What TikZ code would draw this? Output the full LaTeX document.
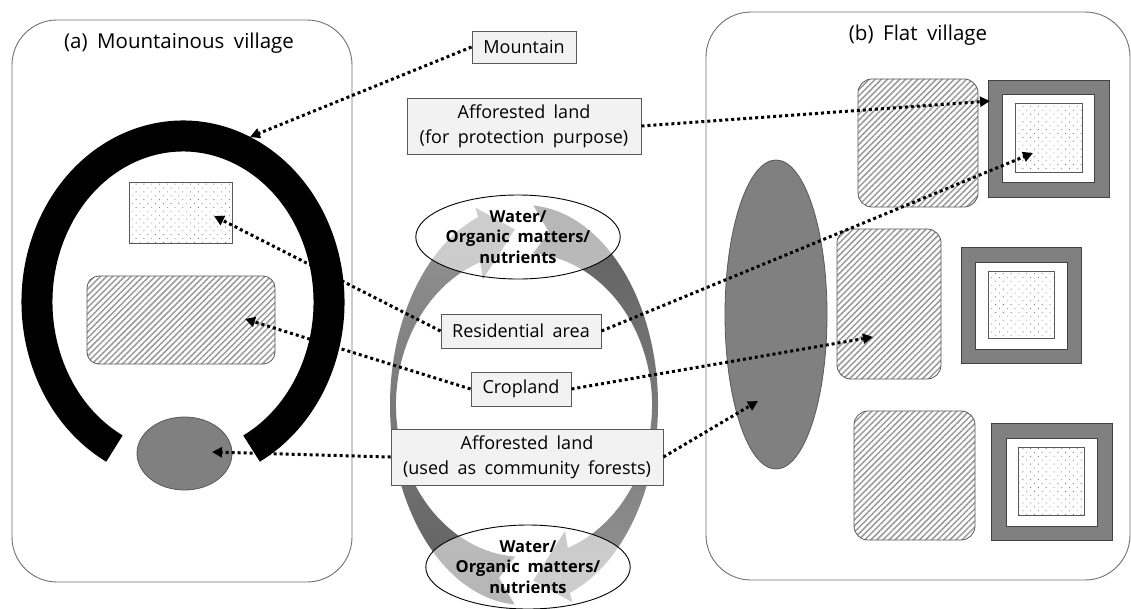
\documentclass[tikz,border=0pt]{standalone}
\usepackage{fontspec}
\setmainfont{Open Sans}[WordSpace=1.8]
\usetikzlibrary{arrows.meta,patterns.meta,shapes.geometric,calc}
\definecolor{boxfill}{HTML}{F2F2F2}
\definecolor{edgegray}{HTML}{595959}
\definecolor{panelgray}{HTML}{707070}
\definecolor{midgray}{HTML}{808080}
\definecolor{ringdark}{HTML}{5E5E5E}
\definecolor{ringlight}{HTML}{959595}
\definecolor{hatchgray}{HTML}{9A9A9A}
\definecolor{dotgray}{HTML}{7A7A7A}
\tikzset{
  panel/.style={draw=panelgray, line width=0.9pt, rounded corners=45pt},
  label/.style={draw=edgegray, fill=boxfill, line width=0.9pt, inner sep=0pt, align=center,
                font=\fontsize{18}{25}\selectfont},
  cyc/.style={ellipse, draw=black, line width=0.9pt, fill=white, fill opacity=0.55, text opacity=1,
              minimum width=150pt, minimum height=84pt, inner sep=0pt, align=center,
              font=\bfseries\fontsize{16.5}{20.5}\selectfont},
  hatched/.style={draw=edgegray, line width=0.8pt, rounded corners=14pt,
                  pattern={Lines[angle=45,distance=4.3pt,line width=1.5pt]}, pattern color=hatchgray},
  dotted box/.style={draw=edgegray, line width=0.8pt, preaction={fill=white},
                  pattern={Dots[distance=5.5pt,radius=0.6pt,angle=45]}, pattern color=dotgray},
  forest/.style={draw=edgegray, line width=0.8pt, fill=midgray},
  frame/.style={draw=ringdark!70!black, line width=0.9pt, fill=midgray},
  conn/.style={line width=3pt, dash pattern=on 3pt off 3pt, -{Triangle[length=10pt,width=10pt]}},
  title/.style={font=\fontsize{20.5}{24}\selectfont}
}
\begin{document}
\begin{tikzpicture}[x=1pt,y=-1pt]
\useasboundingbox (0,0) rectangle (1131,608);
\fill[white] (0,0) rectangle (1131,608);

% panels
\draw[panel] (12,20) rectangle (352,582);
\draw[panel] (706,12) rectangle (1130,580);
\node[title] (ta) at (179,43) {(a) Mountainous village};
\node[title] (tb) at (918,35) {(b) Flat village};

% ----- left panel -----
\draw[line width=31pt, black] ($(183,302)+(118:146 and 166)$) arc[start angle=118, end angle=422, x radius=146, y radius=166];
\draw[dotted box] (129,182) rectangle (232,243);
\draw[hatched, rounded corners=12pt] (87,276) rectangle (275,364);
\draw[forest] (184.5,453.5) ellipse[x radius=47.5, y radius=36.5];

% ----- right panel -----
\draw[forest] (776,314.5) ellipse[x radius=51, y radius=154.5];
\draw[hatched] (858,79) rectangle (978,207);
\draw[hatched] (837,229) rectangle (941,379);
\draw[hatched] (854,411) rectangle (975,540);
% residences
\draw[frame] (988,80) rectangle (1109,197);
\draw[draw=ringdark!70!black, line width=0.8pt, fill=white] (1002,94) rectangle (1094,182);
\draw[dotted box] (1015,103) rectangle (1082,172);
\draw[frame] (961,247) rectangle (1081,363);
\draw[draw=ringdark!70!black, line width=0.8pt, fill=white] (975,262) rectangle (1067,349);
\draw[dotted box] (988,271) rectangle (1054,338);
\draw[frame] (991,423) rectangle (1112,540);
\draw[draw=ringdark!70!black, line width=0.8pt, fill=white] (1006,438) rectangle (1097,526);
\draw[dotted box] (1018,447) rectangle (1084,515);

% ----- cycle arrows -----
\coordinate (rc) at (524,405);
\shade[top color=ringdark, bottom color=ringlight]
  ($(rc)+(274:134 and 200)$) arc[start angle=274, end angle=430, x radius=134, y radius=200]
  -- ($(rc)+(430:142 and 210)$) -- ($(rc)+(446:131 and 176)$) -- ($(rc)+(430:120 and 134)$)
  -- ($(rc)+(430:128 and 152)$) arc[start angle=430, end angle=274, x radius=128, y radius=152]
  -- ($(rc)+(281:131 and 176)$) -- cycle;
\shade[top color=ringlight, bottom color=ringdark]
  ($(rc)+(94:134 and 200)$) arc[start angle=94, end angle=250, x radius=134, y radius=200]
  -- ($(rc)+(250:142 and 210)$) -- ($(rc)+(266:131 and 176)$) -- ($(rc)+(250:120 and 134)$)
  -- ($(rc)+(250:128 and 152)$) arc[start angle=250, end angle=94, x radius=128, y radius=152]
  -- ($(rc)+(101:131 and 176)$) -- cycle;
\node[cyc] (ctop) at (518,237) {Water/\\Organic matters/\\nutrients};
\node[cyc] (cbot) at (528,567) {Water/\\Organic matters/\\nutrients};

% ----- labels -----
\node[label, minimum width=104pt, minimum height=32pt] (mnt) at (524,47) {Mountain};
\node[label, minimum width=234pt, minimum height=56pt] (prot) at (524,126) {Afforested land\\(for protection purpose)};
\node[label, minimum width=160pt, minimum height=34pt] (res) at (521,331) {Residential area};
\node[label, minimum width=100pt, minimum height=34pt] (crop) at (521,389) {Cropland};
\node[label, minimum width=272pt, minimum height=56pt] (comm) at (527,457) {Afforested land\\(used as community forests)};

% ----- targets -----
\coordinate (tMnt) at (250,137);
\coordinate (tProt) at (990,101);
\coordinate (tResL) at (214,216);
\coordinate (tResR) at (1033,153);
\coordinate (tCropL) at (245,319);
\coordinate (tCropR) at (873,337);
\coordinate (tForL) at (212,452);
\coordinate (tForR) at (758,401);

% ----- connectors -----
\draw[conn] (mnt.west) -- (tMnt);
\draw[conn] (prot.east) -- (tProt);
\draw[conn] (res.west) -- (tResL);
\draw[conn] (res.east) -- (tResR);
\draw[conn] (crop.west) -- (tCropL);
\draw[conn] (crop.east) -- (tCropR);
\draw[conn] (comm.west) -- (tForL);
\draw[conn] (comm.east) -- (tForR);
\end{tikzpicture}
\end{document}
